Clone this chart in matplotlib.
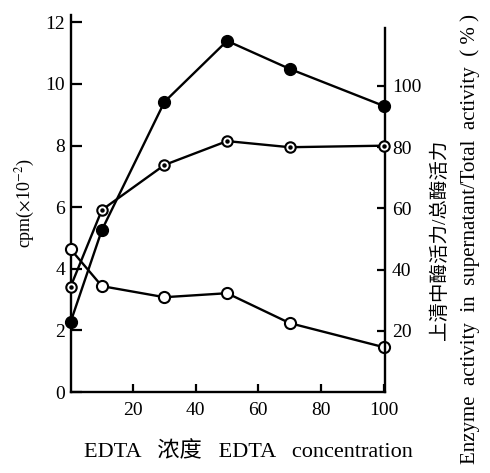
import matplotlib
matplotlib.use('Agg')
import matplotlib.pyplot as plt

plt.rcParams['font.family'] = ['Liberation Serif', 'Noto Sans CJK SC']
plt.rcParams['mathtext.fontset'] = 'stix'

# EDTA concentration
edta = [0, 10, 30, 50, 70, 100]
# left axis, cpm (x 10^-2)
cpm_filled = [2.27, 5.26, 9.42, 11.4, 10.49, 9.29]
cpm_open = [4.64, 3.44, 3.08, 3.21, 2.24, 1.46]
# right axis, supernatant / total activity (%)
activity_pct = [34.4, 59.5, 74.2, 82.0, 80.0, 80.5]

left_ticks = [0, 2, 4, 6, 8, 10, 12]
right_ticks = [20, 40, 60, 80, 100]
x_ticks = [20, 40, 60, 80, 100]

fig = plt.figure(figsize=(4.9, 4.73), dpi=100)
ax = fig.add_axes([0.144, 0.171, 0.642, 0.798])
ax2 = ax.twinx()

lw = 1.7
ax.plot(edta, cpm_filled, color='black', lw=lw, marker='o', ms=8.5,
        mfc='black', mec='black', zorder=3, clip_on=False)
ax.plot(edta, cpm_open, color='black', lw=lw, marker='o', ms=8,
        mfc='white', mec='black', mew=1.5, zorder=3, clip_on=False)
ax2.plot(edta, activity_pct, color='black', lw=lw, marker='o', ms=7.5,
         mfc='white', mec='black', mew=1.5, zorder=3, clip_on=False)
ax2.plot(edta, activity_pct, ls='none', marker='o', ms=2.2, color='black',
         zorder=4, clip_on=False)

ax.set_xlim(0, 100.5)
ax.set_ylim(0, 12.25)
ax2.set_ylim(0, 123.3)

for a in (ax, ax2):
    a.spines['top'].set_visible(False)
    for s in a.spines.values():
        s.set_linewidth(1.7)
ax.spines['right'].set_visible(False)
ax2.spines['left'].set_visible(False)
ax2.spines['bottom'].set_visible(False)
ax2.spines['right'].set_bounds(0, 119)

ax.set_xticks(x_ticks)
ax.set_yticks(left_ticks)
ax2.set_yticks(right_ticks)
ax.tick_params(axis='y', direction='in', length=8, width=1.6, pad=4,
               labelsize=14)
ax.tick_params(axis='x', direction='in', length=6, width=1.6, pad=7,
               labelsize=14)
ax2.tick_params(axis='y', direction='in', length=6, width=1.6, pad=5,
                labelsize=14)

ax.set_ylabel(r'cpm($\times$10$^{-2}$)', fontsize=13, labelpad=6)

fig.text(248 / 490, 1 - 452 / 473, 'EDTA   浓度   EDTA   concentration',
         ha='center', va='center', fontsize=16)
fig.text(440 / 490, 1 - 240 / 473, '上清中酶活力/总酶活力', rotation=90,
         ha='center', va='center', fontsize=14)
fig.text(470 / 490, 1 - 239 / 473,
         'Enzyme  activity  in  supernatant/Total  activity  ( % )',
         rotation=90, ha='center', va='center', fontsize=15)

fig.savefig('out.png', dpi=100)
